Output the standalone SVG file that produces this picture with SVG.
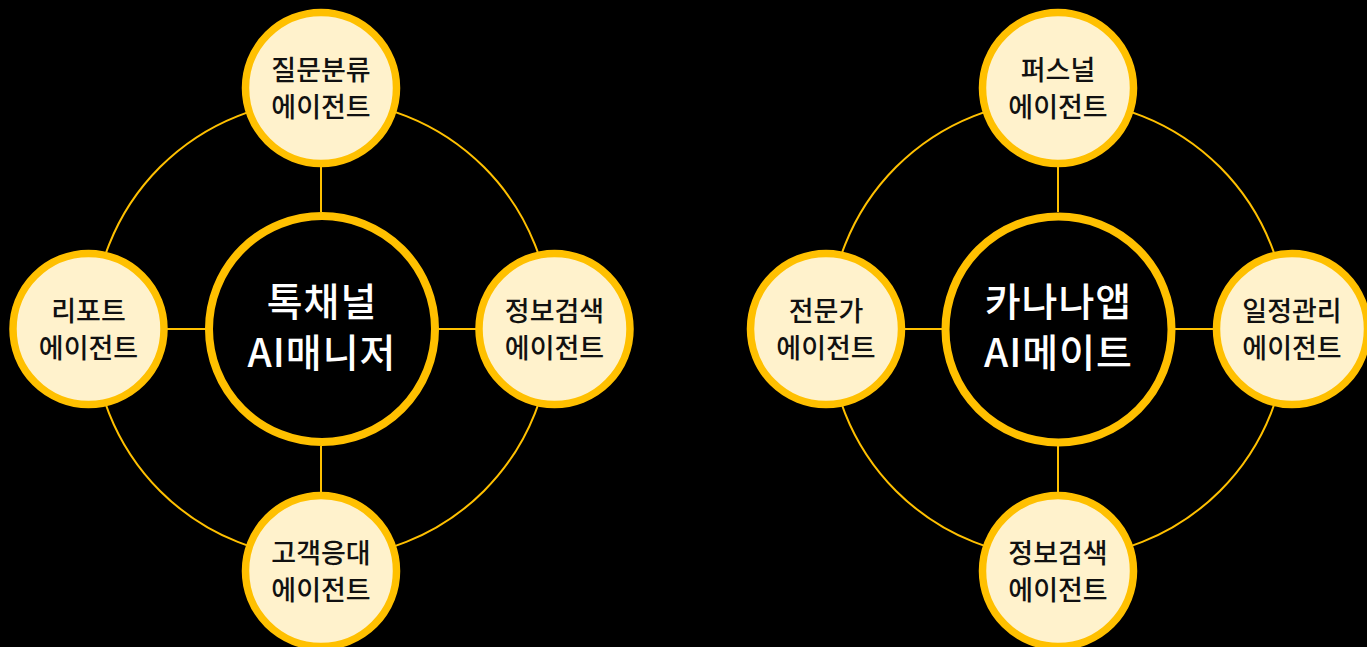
<svg xmlns="http://www.w3.org/2000/svg" width="1367" height="647" viewBox="0 0 1367 647">
<style>
.bg{fill:#000}
.ring{fill:none;stroke:#FFC000;stroke-width:2}
.spoke{stroke:#FFC000;stroke-width:2}
.hub{fill:#000;stroke:#FFC000;stroke-width:8}
.sat{fill:#FFF2CC;stroke:#FFC000;stroke-width:7.5}
.st{font-family:"Noto Sans CJK KR","Noto Sans",sans-serif;font-size:27px;font-weight:500;fill:#111;text-anchor:middle}
.ht{font-family:"Noto Sans CJK KR","Noto Sans",sans-serif;font-size:39px;font-weight:500;fill:#fff;text-anchor:middle;letter-spacing:1px}
</style>
<rect class="bg" x="0" y="0" width="1367" height="647"/>
<g id="connectors">
  <circle class="ring" cx="322" cy="329" r="229"/>
  <line class="spoke" x1="321" y1="166" x2="321" y2="212"/>
  <line class="spoke" x1="321" y1="446" x2="321" y2="492"/>
  <line class="spoke" x1="166" y1="329" x2="206" y2="329"/>
  <line class="spoke" x1="438" y1="329" x2="476" y2="329"/>
  <circle class="ring" cx="1058" cy="329" r="229"/>
  <line class="spoke" x1="1058" y1="166" x2="1058" y2="212"/>
  <line class="spoke" x1="1058" y1="446" x2="1058" y2="492"/>
  <line class="spoke" x1="904" y1="329" x2="942" y2="329"/>
  <line class="spoke" x1="1174" y1="329" x2="1214" y2="329"/>
</g>
<g id="hub-left">
  <circle class="hub" cx="322" cy="329" r="113"/>
  <text class="ht" x="322" y="316">톡채널</text>
  <text class="ht" x="322" y="367">AI매니저</text>
</g>
<g id="node-question">
  <circle class="sat" cx="321" cy="88" r="75.5"/>
  <text class="st" x="321" y="80">질문분류</text>
  <text class="st" x="321" y="117">에이전트</text>
</g>
<g id="node-report">
  <circle class="sat" cx="88.5" cy="329" r="75.5"/>
  <text class="st" x="88.5" y="321">리포트</text>
  <text class="st" x="88.5" y="358">에이전트</text>
</g>
<g id="node-search-left">
  <circle class="sat" cx="554.5" cy="329" r="75.5"/>
  <text class="st" x="554.5" y="321">정보검색</text>
  <text class="st" x="554.5" y="358">에이전트</text>
</g>
<g id="node-customer">
  <circle class="sat" cx="321" cy="571" r="75.5"/>
  <text class="st" x="321" y="563">고객응대</text>
  <text class="st" x="321" y="600">에이전트</text>
</g>
<g id="hub-right">
  <circle class="hub" cx="1058.5" cy="329.5" r="113"/>
  <text class="ht" x="1058.5" y="316">카나나앱</text>
  <text class="ht" x="1058.5" y="367">AI메이트</text>
</g>
<g id="node-personal">
  <circle class="sat" cx="1058" cy="88" r="75.5"/>
  <text class="st" x="1058" y="80">퍼스널</text>
  <text class="st" x="1058" y="117">에이전트</text>
</g>
<g id="node-expert">
  <circle class="sat" cx="826" cy="329" r="75.5"/>
  <text class="st" x="826" y="321">전문가</text>
  <text class="st" x="826" y="358">에이전트</text>
</g>
<g id="node-schedule">
  <circle class="sat" cx="1292" cy="329" r="75.5"/>
  <text class="st" x="1292" y="321">일정관리</text>
  <text class="st" x="1292" y="358">에이전트</text>
</g>
<g id="node-search-right">
  <circle class="sat" cx="1058" cy="571" r="75.5"/>
  <text class="st" x="1058" y="563">정보검색</text>
  <text class="st" x="1058" y="600">에이전트</text>
</g>
</svg>
